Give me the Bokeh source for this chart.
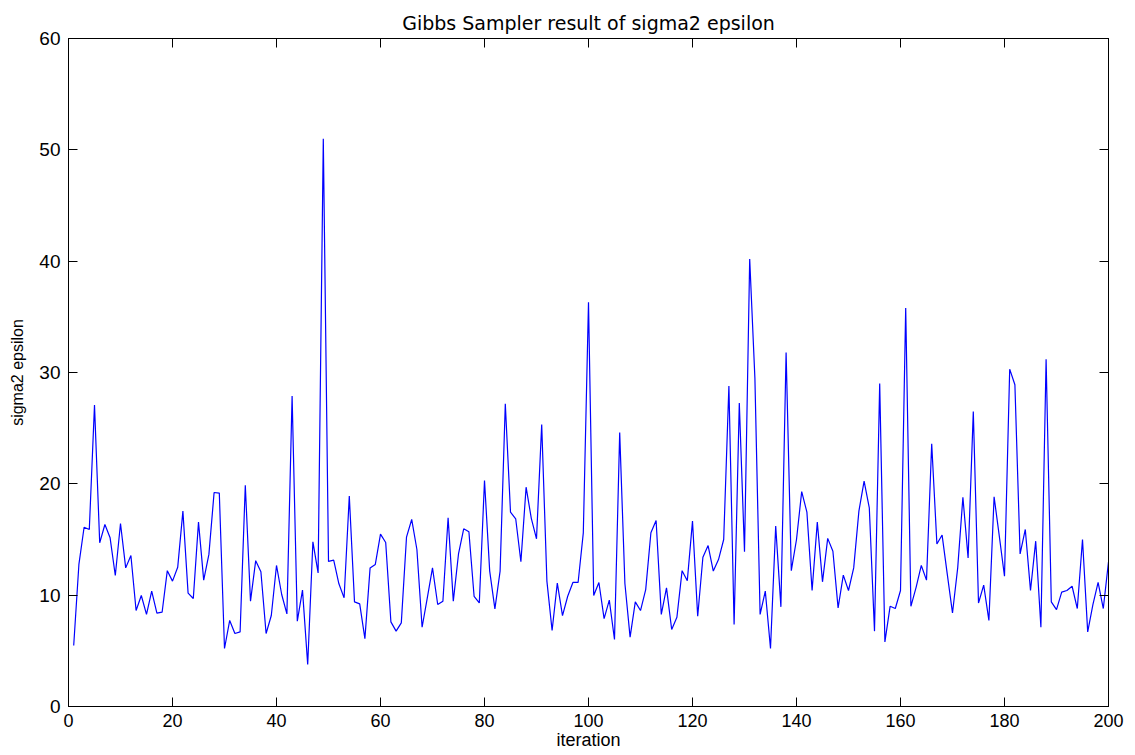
from bokeh.plotting import figure
from bokeh.models import LinearAxis, Range1d, SingleIntervalTicker
from bokeh.embed import file_html
from bokeh.resources import INLINE

iterations = list(range(1, 201))
sigma2_epsilon = [
    5.48, 12.76, 16.1, 15.9, 27.07, 14.7, 16.35, 15.15, 11.77, 16.44,
    12.45, 13.56, 8.62, 9.97, 8.27, 10.36, 8.38, 8.47, 12.2, 11.26,
    12.5, 17.55, 10.18, 9.7, 16.56, 11.35, 13.66, 19.22, 19.17, 5.21,
    7.73, 6.56, 6.7, 19.88, 9.46, 13.1, 12.1, 6.56, 8.17, 12.67,
    10.06, 8.32, 27.88, 7.66, 10.45, 3.77, 14.79, 12.0, 51.0, 13.03,
    13.15, 11.02, 9.76, 18.9, 9.4, 9.22, 6.1, 12.45, 12.76, 15.48,
    14.73, 7.6, 6.77, 7.51, 15.21, 16.8, 14.1, 7.12, 9.76, 12.45,
    9.16, 9.46, 16.95, 9.46, 13.7, 15.96, 15.69, 9.9, 9.3, 20.3,
    12.16, 8.77, 12.16, 27.2, 17.46, 16.86, 13.0, 19.7, 16.9, 15.06,
    25.33, 11.26, 6.83, 11.08, 8.17, 9.9, 11.14, 11.14, 15.6, 36.3,
    9.97, 11.14, 7.9, 9.55, 6.02, 24.6, 11.05, 6.23, 9.4, 8.62,
    10.5, 15.6, 16.7, 8.27, 10.66, 6.92, 8.02, 12.2, 11.3, 16.65,
    8.1, 13.4, 14.46, 12.16, 13.2, 15.0, 28.78, 7.37, 27.25, 13.9,
    40.2, 29.5, 8.27, 10.36, 5.21, 16.2, 8.95, 31.8, 12.2, 15.0,
    19.3, 17.46, 10.42, 16.56, 11.2, 15.1, 13.95, 8.86, 11.8, 10.42,
    12.45, 17.55, 20.25, 17.85, 6.77, 29.0, 5.8, 9.0, 8.8, 10.42,
    35.8, 9.0, 10.7, 12.67, 11.35, 23.6, 14.6, 15.4, 11.87, 8.4,
    12.45, 18.8, 13.35, 26.5, 9.3, 10.9, 7.73, 18.83, 15.3, 11.7,
    30.3, 28.9, 13.7, 15.9, 10.42, 14.85, 7.12, 31.2, 9.4, 8.7,
    10.27, 10.42, 10.8, 8.8, 15.0, 6.7, 9.16, 11.14, 8.8, 13.0,
]

title_text = "Gibbs Sampler result of sigma2 epsilon"
x_label = "iteration"
y_label = "sigma2 epsilon"

FONT = "Liberation Sans"

p = figure(width=1135, height=755, output_backend="svg", toolbar_location=None,
           x_range=Range1d(0, 200), y_range=Range1d(0, 60),
           min_border_left=68, min_border_right=27, min_border_top=38, min_border_bottom=49,
           x_axis_label=x_label, y_axis_label=y_label)

p.title.text = title_text
p.title.align = "center"
p.title.text_font = "DejaVu Sans"
p.title.text_font_size = "19px"
p.title.text_font_style = "normal"
p.title.text_color = "black"

p.grid.visible = False
p.background_fill_color = "white"
p.border_fill_color = "white"
p.outline_line_color = "black"

p.line(iterations, sigma2_epsilon, line_color="#0000ff", line_width=1.2)

xt = SingleIntervalTicker(interval=20, num_minor_ticks=0)
yt = SingleIntervalTicker(interval=10, num_minor_ticks=0)

for ax in p.xaxis:
    ax.ticker = xt
    ax.major_tick_in = 9
    ax.major_tick_out = 0
    ax.minor_tick_line_color = None
    ax.major_label_text_font = FONT
    ax.major_label_text_font_size = "18px"
    ax.major_label_text_color = "black"
    ax.major_label_standoff = 7
    ax.axis_label_text_font = FONT
    ax.axis_label_text_font_size = "18px"
    ax.axis_label_text_font_style = "normal"
    ax.axis_label_text_color = "black"
    ax.axis_label_standoff = 0
    ax.axis_line_color = "black"
    ax.major_tick_line_color = "black"

for ax in p.yaxis:
    ax.ticker = yt
    ax.major_tick_in = 9
    ax.major_tick_out = 0
    ax.minor_tick_line_color = None
    ax.major_label_text_font = FONT
    ax.major_label_text_font_size = "19px"
    ax.major_label_text_color = "black"
    ax.major_label_standoff = 8
    ax.axis_label_text_font = FONT
    ax.axis_label_text_font_size = "16px"
    ax.axis_label_text_font_style = "normal"
    ax.axis_label_text_color = "black"
    ax.axis_label_standoff = 10
    ax.axis_line_color = "black"
    ax.major_tick_line_color = "black"

top = LinearAxis(ticker=xt, major_tick_in=9, major_tick_out=0,
                 minor_tick_line_color=None, major_label_text_font_size="1px",
                 major_label_text_color=None,
                 major_label_standoff=8, axis_line_color="black",
                 major_tick_line_color="black")
right = LinearAxis(ticker=yt, major_tick_in=9, major_tick_out=0,
                   minor_tick_line_color=None, major_label_text_font_size="1px",
                   major_label_text_color=None,
                   major_label_standoff=0, axis_line_color="black",
                   major_tick_line_color="black")
p.add_layout(top, "above")
p.add_layout(right, "right")

open("out.html", "w").write(file_html(p, INLINE))
